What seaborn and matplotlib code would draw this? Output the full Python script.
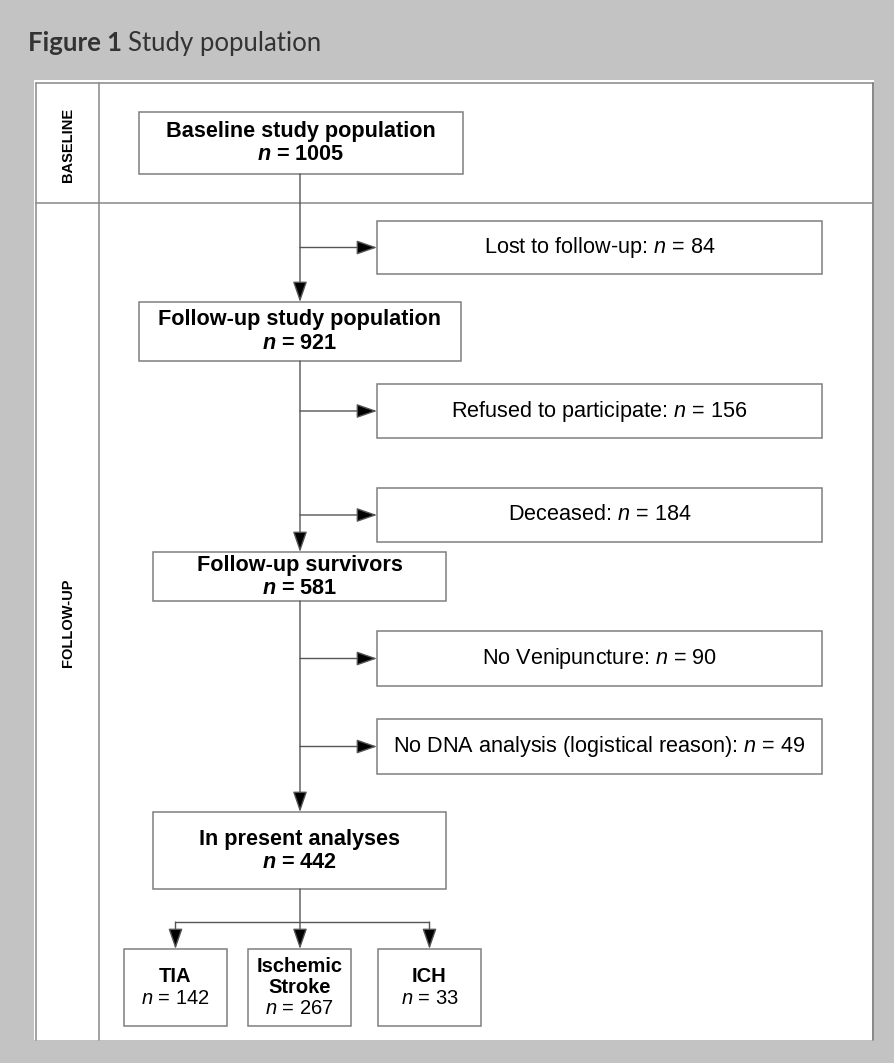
import matplotlib
matplotlib.use("Agg")
import matplotlib.pyplot as plt
from matplotlib.patches import Rectangle, FancyArrowPatch
import seaborn as sns

# ---------------- data ----------------
title_bold = "Figure 1"
title_rest = "Study population"
phase_labels = ["BASELINE", "FOLLOW-UP"]
main_labels = ["Baseline study population", "Follow-up study population",
               "Follow-up survivors", "In present analyses"]
main_n = [1005, 921, 581, 442]
excl_labels = ["Lost to follow-up", "Refused to participate", "Deceased",
               "No Venipuncture", "No DNA analysis (logistical reason)"]
excl_n = [84, 156, 184, 90, 49]
sub_labels = ["TIA", "Ischemic\nStroke", "ICH"]
sub_n = [142, 267, 33]

# ---------------- style ----------------
sns.set_theme(style="white")
plt.rcParams['font.family'] = ['Liberation Sans', 'DejaVu Sans']
plt.rcParams['text.color'] = 'black'
plt.rcParams['mathtext.fontset'] = 'custom'
plt.rcParams['mathtext.it'] = 'Liberation Sans:italic'
plt.rcParams['mathtext.bf'] = 'Liberation Sans:bold:italic'
plt.rcParams['mathtext.rm'] = 'Liberation Sans'

W, H = 895, 1063
fig = plt.figure(figsize=(W / 100, H / 100), dpi=100)
fig.patch.set_facecolor('#c3c3c3')
ax = fig.add_axes([0, 0, 1, 1])
ax.set_xlim(0, W)
ax.set_ylim(H, 0)
ax.axis('off')

BOX_EC = '#7f7f7f'
LINE_C = '#555555'
FS = 15.6
FS_SUB = 14.5

# panel
ax.add_patch(Rectangle((34, 80), 840, 960, facecolor='white', edgecolor='none', zorder=0))
ax.plot([36, 36], [83, 1040], color='#888888', lw=1.1, zorder=1)
ax.plot([36, 873], [83, 83], color='#888888', lw=1.1, zorder=1)
ax.plot([873, 873], [83, 1040], color='#666666', lw=1.1, zorder=1)
ax.plot([99, 99], [83, 1040], color='#888888', lw=1.1, zorder=1)
ax.plot([36, 873], [203, 203], color='#888888', lw=1.1, zorder=1)

# title
r = fig.canvas.get_renderer()
t1 = ax.text(28, 51, title_bold, fontsize=18.5, fontweight='bold', family=['Lato', 'DejaVu Sans'],
             color='#333333', va='baseline', ha='left')
bb = t1.get_window_extent(renderer=r)
x2 = ax.transData.inverted().transform((bb.x1, bb.y0))[0] + 6
ax.text(x2, 51, title_rest, fontsize=18.5, family=['Lato', 'DejaVu Sans'],
        color='#333333', va='baseline', ha='left')

# phase labels
phase_y = [145, 623]
for lab, y in zip(phase_labels, phase_y):
    ax.text(68, y, lab, rotation=90, fontsize=10.5, fontweight='bold',
            ha='center', va='center', color='black')


def box(x0, y0, x1, y1):
    ax.add_patch(Rectangle((x0, y0), x1 - x0, y1 - y0, facecolor='white',
                           edgecolor=BOX_EC, lw=1.1, zorder=2))


def arrow(x0, y0, x1, y1):
    a = FancyArrowPatch((x0, y0), (x1, y1), arrowstyle='-|>,head_length=1.15,head_width=0.4',
                        mutation_scale=11, color='black', lw=1.0, zorder=3,
                        shrinkA=0, shrinkB=0)
    a.set_edgecolor(LINE_C)
    a.set_facecolor('black')
    ax.add_patch(a)


def line(xs, ys):
    ax.plot(xs, ys, color=LINE_C, lw=1.0, zorder=3, solid_capstyle='butt')


# main boxes
main_geom = [(139, 112, 463, 174), (139, 302, 461, 361), (153, 552, 446, 601), (153, 812, 446, 889)]
CX = 300
for (x0, y0, x1, y1), lab, n in zip(main_geom, main_labels, main_n):
    box(x0, y0, x1, y1)
    cx = (x0 + x1) / 2
    cy = (y0 + y1) / 2
    ax.text(cx, cy - 11.5, lab, fontsize=FS, fontweight='bold', ha='center', va='center',
            color='black', zorder=4)
    ax.text(cx, cy + 12, r"$\mathbf{n}$ = " + str(n), fontsize=FS, fontweight='bold',
            ha='center', va='center', color='black', zorder=4)

# vertical down arrows between main boxes
for i in range(3):
    arrow(CX, main_geom[i][3], CX, main_geom[i + 1][1])

# exclusion boxes
excl_geom = [(221, 274), (384, 438), (488, 542), (631, 686), (719, 774)]
EX0, EX1 = 377, 822
for (y0, y1), lab, n in zip(excl_geom, excl_labels, excl_n):
    box(EX0, y0, EX1, y1)
    cy = (y0 + y1) / 2
    arrow(CX, cy, EX0, cy)
    ax.text((EX0 + EX1) / 2, cy, lab + r": $\mathit{n}$ = " + str(n), fontsize=FS,
            ha='center', va='center', color='black', zorder=4)

# sub-group boxes
sub_geom = [(124, 227), (248, 351), (378, 481)]
SY0, SY1 = 949, 1026
HY = 922
sub_cx = [(a + b) / 2 for a, b in sub_geom]
line([sub_cx[0], sub_cx[-1]], [HY, HY])
for (x0, x1), lab, n in zip(sub_geom, sub_labels, sub_n):
    box(x0, SY0, x1, SY1)
    cx = (x0 + x1) / 2
    if abs(cx - CX) < 5:
        arrow(CX, main_geom[-1][3], CX, SY0)
    else:
        arrow(cx, HY, cx, SY0)
    lines = lab.split("\n")
    k = len(lines)
    ys = [987.5 + (j - (k - 1) / 2 - 0.5) * 21 for j in range(k + 1)]
    for j, ln in enumerate(lines):
        ax.text(cx, ys[j], ln, fontsize=FS_SUB, fontweight='bold', ha='center', va='center',
                color='black', zorder=4)
    ax.text(cx, ys[k], r"$\mathit{n}$ = " + str(n), fontsize=FS_SUB, ha='center', va='center',
            color='black', zorder=4)

fig.savefig("out.png", dpi=100, facecolor=fig.get_facecolor())
